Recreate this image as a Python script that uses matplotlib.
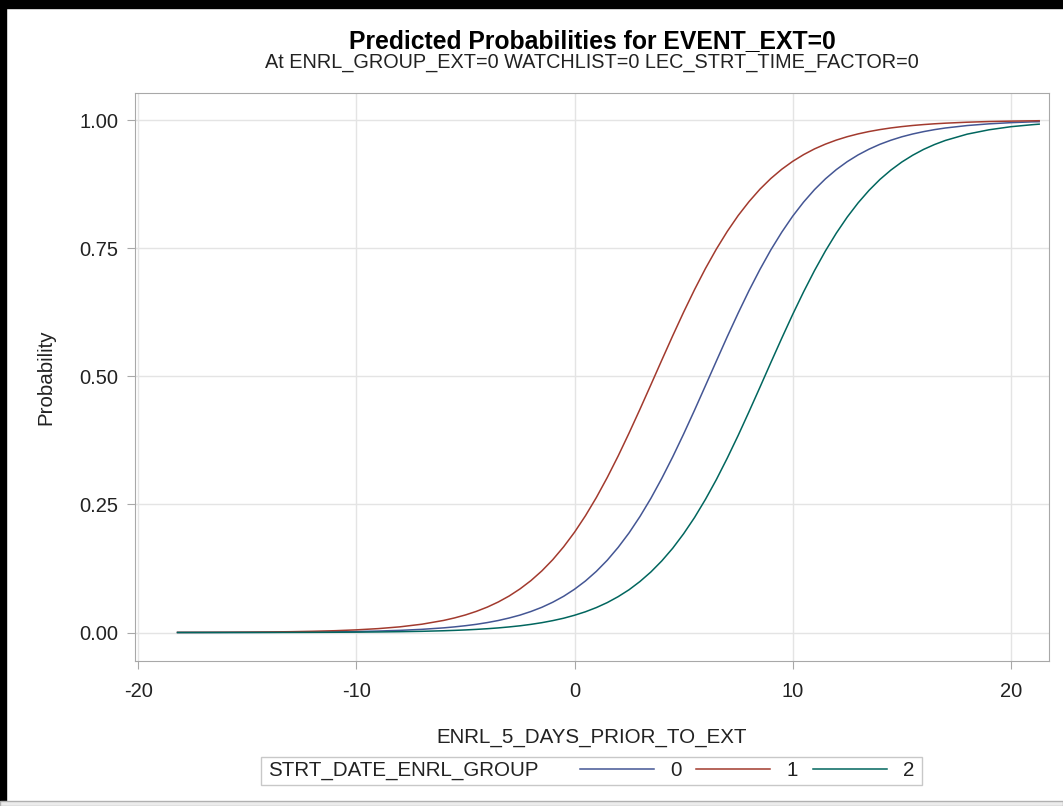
import matplotlib
matplotlib.use("Agg")
import matplotlib.pyplot as plt
from matplotlib.patches import Rectangle

plt.rcParams['font.family'] = ['Liberation Sans', 'DejaVu Sans']

# predicted probabilities
x_vals = [-18.2, -17, -16, -15, -14, -13, -12, -11, -10, -9, -8, -7, -6,
          -5.5, -5, -4.5, -4, -3.5, -3, -2.5, -2, -1.5, -1, -0.5, 0, 0.5, 1, 1.5, 2, 2.5, 3, 3.5,
          4, 4.5, 5, 5.5, 6, 6.5, 7, 7.5, 8, 8.5, 9, 9.5, 10, 10.5, 11, 11.5, 12, 12.5, 13, 13.5,
          14, 14.5, 15, 15.5, 16, 16.5, 17,
          18, 19, 20, 21, 21.3]

prob_grp0 = [0.00008, 0.00013, 0.00019, 0.00029, 0.00042, 0.00062, 0.00091, 0.00133, 0.00196,
             0.00287, 0.00422, 0.00619, 0.00908,
             0.0110, 0.0133, 0.0160, 0.0194, 0.0234, 0.0283, 0.0340, 0.0410, 0.0492, 0.0591,
             0.0707, 0.0845, 0.1006, 0.1194, 0.1411, 0.1662, 0.1945, 0.2265, 0.2619, 0.3009,
             0.3428, 0.3874, 0.4339, 0.4817, 0.5297, 0.5774, 0.6234, 0.6675, 0.7087, 0.7469,
             0.7814, 0.8126, 0.8401, 0.8644, 0.8854, 0.9035, 0.9190, 0.9322, 0.9434, 0.9529,
             0.9608, 0.9675, 0.9730, 0.9776, 0.9815, 0.9847,
             0.9895, 0.9928, 0.9951, 0.9967, 0.9970]

prob_grp1 = [0.00022, 0.00035, 0.00051, 0.00076, 0.0011, 0.0016, 0.0024, 0.0035, 0.0052,
             0.0076, 0.0111, 0.0162, 0.0236,
             0.0285, 0.0343, 0.0413, 0.0496, 0.0595, 0.0712, 0.0851, 0.1013, 0.1202, 0.1421,
             0.1673, 0.1958, 0.2279, 0.2635, 0.3026, 0.3446, 0.3894, 0.4359, 0.4836, 0.5317,
             0.5792, 0.6253, 0.6692, 0.7104, 0.7483, 0.7828, 0.8138, 0.8411, 0.8653, 0.8862,
             0.9042, 0.9196, 0.9327, 0.9439, 0.9532, 0.9611, 0.9677, 0.9732, 0.9778, 0.9816,
             0.9848, 0.9874, 0.9896, 0.9914, 0.9929, 0.9941,
             0.9960, 0.9973, 0.9981, 0.9987, 0.9989]

prob_grp2 = [0.00003, 0.00005, 0.00007, 0.00011, 0.00016, 0.00023, 0.00034, 0.00050, 0.00074,
             0.00109, 0.00160, 0.00235, 0.00344,
             0.00417, 0.00505, 0.00612, 0.00741, 0.00897, 0.0109, 0.0131, 0.0159, 0.0192, 0.0232,
             0.0279, 0.0337, 0.0405, 0.0487, 0.0584, 0.0700, 0.0835, 0.0996, 0.1182, 0.1398,
             0.1645, 0.1928, 0.2244, 0.2598, 0.2984, 0.3403, 0.3846, 0.4312, 0.4788, 0.5270,
             0.5745, 0.6208, 0.6649, 0.7064, 0.7447, 0.7795, 0.8108, 0.8386, 0.8630, 0.8843,
             0.9025, 0.9182, 0.9315, 0.9429, 0.9524, 0.9604,
             0.9727, 0.9812, 0.9872, 0.9912, 0.9922]

groups = ["0", "1", "2"]
x_ticks = [-20, -10, 0, 10, 20]
y_ticks = [0.0, 0.25, 0.5, 0.75, 1.0]

W, H = 1063, 806
fig = plt.figure(figsize=(W / 100, H / 100), dpi=100)

# window frame bits around the SAS graph
fig.patches.append(Rectangle((0, 1 - 8 / H), 1, 8 / H, transform=fig.transFigure, color="black"))
fig.patches.append(Rectangle((0, 0), 6 / W, 1, transform=fig.transFigure, color="black"))
fig.patches.append(Rectangle((0, 0), 1, 5 / H, transform=fig.transFigure, color="#ececec", ec="#b0b0b0", lw=1))

ax = fig.add_axes([135 / W, 1 - 661 / H, (1049 - 135) / W, (661 - 93) / H])

colors = ["#445694", "#A23A2E", "#01665E"]
lines = []
for probs, c, g in zip([prob_grp0, prob_grp1, prob_grp2], colors, groups):
    ln, = ax.plot(x_vals, probs, color=c, lw=1.1, label=g)
    lines.append(ln)

ax.set_xlim(-20.15, 21.75)
ax.set_ylim(-0.0556, 1.053)
ax.set_xticks(x_ticks)
ax.set_xticklabels(["-20", "-10", "0", "10", "20"])
ax.set_yticks(y_ticks)
ax.set_yticklabels(["0.00", "0.25", "0.50", "0.75", "1.00"])
ax.grid(True, color="#e4e4e4", lw=1)
ax.set_axisbelow(True)
for sp in ax.spines.values():
    sp.set_color("#a8a8a8")
ax.tick_params(axis="both", colors="#a8a8a8", labelcolor="#222222", labelsize=14.5, length=6)
ax.tick_params(axis="x", pad=9)
ax.tick_params(axis="y", pad=6)

ax.set_xlabel("ENRL_5_DAYS_PRIOR_TO_EXT", fontsize=14.8, color="#222222")
ax.xaxis.set_label_coords(0.5, -0.118)
ax.set_ylabel("Probability", fontsize=14.8, color="#222222")
ax.yaxis.set_label_coords(-0.087, 0.5)

cx = (135 + 1049) / 2 / W
fig.text(cx, 1 - 41 / H, "Predicted Probabilities for EVENT_EXT=0", ha="center", va="center",
         fontsize=17.8, fontweight="bold", color="black")
fig.text(cx, 1 - 62 / H, "At ENRL_GROUP_EXT=0 WATCHLIST=0 LEC_STRT_TIME_FACTOR=0", ha="center",
         va="center", fontsize=14.3, color="#222222")

# legend: framed box with inline group title
fig.patches.append(Rectangle((261 / W, 1 - 785 / H), (922 - 261) / W, (785 - 757) / H,
                             transform=fig.transFigure, fill=False, ec="#c8c8c8", lw=1))
fig.text(268 / W, 1 - 771 / H, "STRT_DATE_ENRL_GROUP", ha="left", va="center",
         fontsize=14.8, color="#222222")
fig.legend(handles=lines, labels=groups, loc="center left", bbox_to_anchor=(580 / W, 1 - 771 / H),
           ncol=3, frameon=False, fontsize=14.8, handlelength=3.6, handletextpad=0.8,
           columnspacing=0.7, borderpad=0, borderaxespad=0, labelcolor="#222222")

fig.savefig("out.png", dpi=100)
